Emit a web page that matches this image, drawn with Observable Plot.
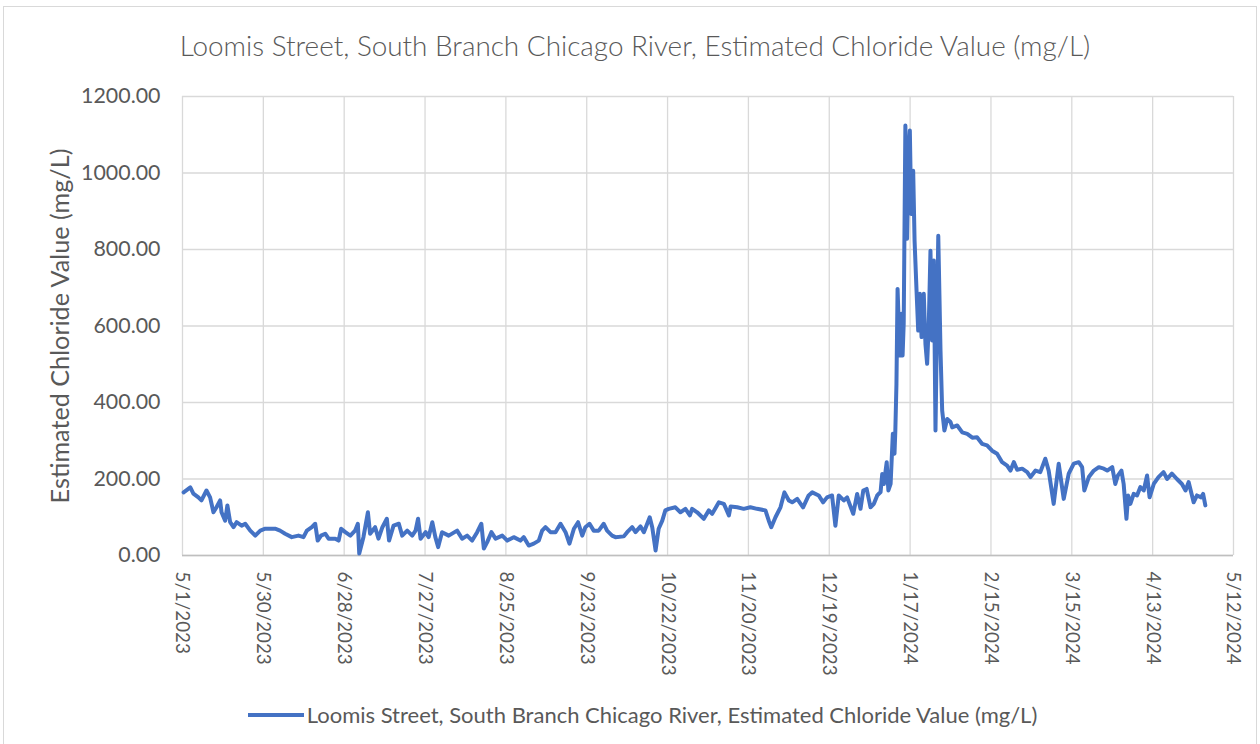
<!DOCTYPE html>
<html>
<head>
<meta charset="utf-8">
<script src="https://cdn.jsdelivr.net/npm/d3@7"></script>
<script src="https://cdn.jsdelivr.net/npm/@observablehq/plot@0.6"></script>
<style>
  html, body { margin: 0; padding: 0; background: #ffffff; }
  #wrap { position: relative; width: 1260px; height: 744px; overflow: hidden; font-family: Lato, "Open Sans", sans-serif; color: #595959; }
  #frame { position: absolute; left: 3px; top: 6px; width: 1254px; height: 760px; border: 1px solid #D9D9D9; box-sizing: border-box; }
  #chart { position: absolute; left: 0; top: 0; }
  #title { position: absolute; left: 0; top: 27px; width: 1270px; text-align: center; font-size: 27.9px; line-height: 36px; font-weight: 300; white-space: nowrap; }
  #legend { position: absolute; left: 0; top: 700px; width: 1285px; display: flex; justify-content: center; align-items: center; font-size: 22px; line-height: 30px; white-space: nowrap; }
  #legend .sw { width: 56px; height: 4px; background: #4472C4; margin-right: 3px; }
</style>
</head>
<body>
<div id="wrap">
  <div id="frame"></div>
  <div id="chart"></div>
  <div id="title"></div>
  <div id="legend"><span class="sw"></span><span id="legtext"></span></div>
</div>
<script>
const chartTitle = "Loomis Street, South Branch Chicago River, Estimated Chloride Value (mg/L)";
const seriesName = "Loomis Street, South Branch Chicago River, Estimated Chloride Value (mg/L)";
const yAxisTitle = "Estimated Chloride Value (mg/L)";
const startDate = "2023-05-01";

// days elapsed since startDate
const dayOffsets = [
  0.4,2.8,3.9,5.7,6.8,8.6,9.9,11.1,12.2,13.5,14.0,15.3,16.1,17.1,18.3,19.4,21.2,22.5,24.3,26.1,27.9,29.7,33.2,35.0,36.8,39.2,41.6,43.4,44.6,46.4,47.6,48.5,49.7,51.2,52.4,54.8,56.0,56.9,58.4,60.2,61.9,62.9,63.4,64.9,66.5,67.3,69.1,70.3,71.7,73.3,74.1,75.7,
  77.6,78.8,80.6,82.4,83.6,84.5,85.4,87.2,88.3,89.6,90.7,91.7,93.1,95.5,98.5,100.3,102.1,103.9,105.7,107.2,108.1,109.3,110.8,112.3,114.7,116.5,118.8,121.2,122.4,124.2,126.0,127.8,129.0,130.2,132.0,133.8,135.6,137.4,138.8,140.4,141.9,143.4,144.5,146.0,147.5,149.3,151.1,152.3,154.1,
  155.3,158.3,159.5,161.3,162.5,164.3,165.5,167.6,168.5,169.7,170.8,172.1,173.2,174.4,176.8,178.6,180.4,182.0,182.8,184.6,187.0,188.8,190.0,192.4,194.2,196.0,196.6,199.0,201.3,203.7,206.1,209.1,210.3,211.2,212.7,214.5,215.9,217.5,218.7,220.5,222.6,224.6,225.9,228.2,229.8,231.2,233.0,234.2,235.4,237.2,238.4,
  240.6,242.0,243.2,244.2,245.4,246.8,248.0,249.2,250.4,251.0,251.6,252.6,253.2,254.0,254.8,255.4,255.7,256.1,256.5,257.3,257.8,258.3,258.7,259.3,259.9,260.5,260.9,261.4,262.1,262.6,263.3,263.9,264.5,265.1,265.9,266.5,267.1,267.7,268.3,268.9,269.5,270.1,271.1,271.9,272.5,273.3,274.3,275.5,
  276.1,277.9,279.7,281.5,283.3,285.0,286.8,288.6,290.4,292.2,294.0,295.8,297.0,298.2,299.4,301.2,303.0,304.2,306.0,307.7,309.5,310.7,312.5,314.3,316.1,317.9,319.7,321.5,322.7,323.5,325.1,326.9,328.7,330.5,331.7,333.5,334.6,335.5,336.8,337.6,338.6,339.2,340.0,341.2,342.4,343.6,344.8,346.0,346.9,348.4,350.1,351.9,353.2,354.9,356.7,358.5,359.8,360.9,362.7,363.9,365.4,366.1,366.9
];

// estimated chloride, mg/L
const chloride = [
  165,178,162,152,144,170,152,113,126,144,113,91,131,87,74,87,78,83,65,52,65,70,70,65,57,48,52,48,65,74,83,39,52,57,44,44,39,70,61,52,65,83,5,48,113,57,74,44,74,96,39,78,
  83,52,65,52,65,96,44,61,48,87,48,22,61,52,65,44,52,39,61,83,18,35,61,44,52,39,48,39,48,26,31,39,65,74,61,61,83,61,31,70,87,52,74,83,65,65,83,65,52,
  48,50,61,74,61,76,61,100,74,13,70,91,118,122,126,113,122,105,122,113,96,118,109,139,135,105,128,126,122,126,122,118,91,74,100,126,165,144,139,148,126,157,165,157,139,152,157,78,157,144,152,
  109,161,122,170,174,126,135,157,166,213,187,244,170,187,318,266,327,449,697,523,632,523,606,1124,828,1059,1111,893,1006,823,693,588,684,571,684,553,501,606,797,562,771,327,836,536,379,327,357,349,
  335,340,322,318,308,309,292,288,274,266,244,235,222,244,224,227,218,205,222,218,253,222,135,240,148,214,240,244,231,170,205,222,231,227,222,231,187,209,222,187,96,157,135,161,157,179,170,209,152,187,205,218,200,214,200,187,170,192,139,157,152,161,131
];

const xTickLabels = ["5/1/2023","5/30/2023","6/28/2023","7/27/2023","8/25/2023","9/23/2023","10/22/2023","11/20/2023","12/19/2023","1/17/2024","2/15/2024","3/15/2024","4/13/2024","5/12/2024"];
const yTickValues = [0, 200, 400, 600, 800, 1000, 1200];

const t0 = new Date(startDate + "T00:00:00Z");
const n = Math.min(dayOffsets.length, chloride.length);
const data = d3.range(n).map(i => ({ date: new Date(+t0 + dayOffsets[i] * 864e5), value: chloride[i] }));
const parseMDY = s => { const [m, d, y] = s.split("/").map(Number); return new Date(Date.UTC(y, m - 1, d)); };
const xTicks = xTickLabels.map(parseMDY);
const labelOf = new Map(xTicks.map((d, i) => [+d, xTickLabels[i]]));

const chart = Plot.plot({
  width: 1260,
  height: 744,
  marginTop: 96,
  marginBottom: 189,
  marginLeft: 182,
  marginRight: 27,
  style: { fontFamily: "Lato, 'Open Sans', sans-serif", fontSize: "20px", color: "#595959", background: "transparent", overflow: "visible" },
  x: { type: "utc", domain: [xTicks[0], xTicks[xTicks.length - 1]] },
  y: { domain: [0, 1200] },
  marks: [
    Plot.gridX(xTicks, { stroke: "#D9D9D9", strokeOpacity: 1, strokeWidth: 1.3 }),
    Plot.gridY(yTickValues, { stroke: "#D9D9D9", strokeOpacity: 1, strokeWidth: 1.3 }),
    Plot.ruleY([0], { stroke: "#BFBFBF", strokeWidth: 1.6 }),
    Plot.axisX({ ticks: xTicks, tickFormat: d => labelOf.get(+d), tickRotate: 90, tickSize: 0, tickPadding: 16, label: null, fill: "#595959", fontSize: 18.8 }),
    Plot.axisY({ ticks: yTickValues, tickFormat: d => d.toFixed(2), tickSize: 0, tickPadding: 22, label: null, fill: "#595959", fontSize: 21.4 }),
    Plot.lineY(data, { x: "date", y: "value", stroke: "#4472C4", strokeWidth: 4, strokeLinejoin: "round", strokeLinecap: "round" }),
    Plot.text([yAxisTitle], { frameAnchor: "left", dx: -122, rotate: -90, textAnchor: "middle", fill: "#595959", fontSize: 25.2 })
  ]
});
document.getElementById("chart").appendChild(chart);
document.getElementById("title").textContent = chartTitle;
document.getElementById("legtext").textContent = seriesName;
</script>
</body>
</html>
